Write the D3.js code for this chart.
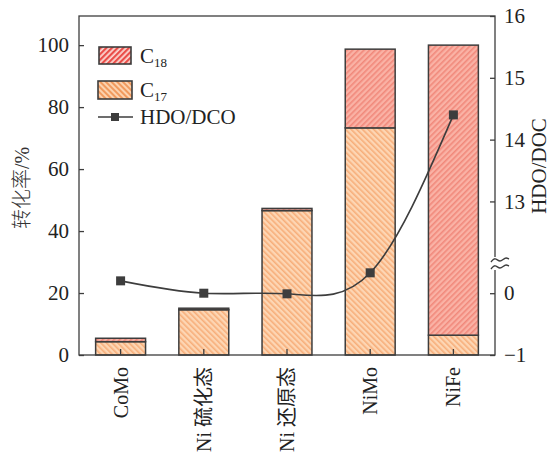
<!DOCTYPE html>
<html>
<head>
<meta charset="utf-8">
<script src="https://cdn.jsdelivr.net/npm/d3@7"></script>
<style>
  html, body { margin: 0; padding: 0; background: #fff; }
</style>
</head>
<body>
<svg id="chart" width="552" height="455"></svg>
<script>
// Catalysts on the x axis
const categories = ["CoMo", "Ni 硫化态", "Ni 还原态", "NiMo", "NiFe"];
// Conversion (%) split into C17 and C18 products
const c17Values = [4.3, 14.6, 46.6, 73.3, 6.4];
const c18Values = [1.1, 0.5, 0.7, 25.4, 93.6];
// HDO/DCO ratio on the right (broken) axis
const ratioValues = [0.2, 0.0, -0.01, 0.33, 14.4];
// Tick labels
const leftTicks = [0, 20, 40, 60, 80, 100];
const rightTicks = [-1, 0, 13, 14, 15, 16];

const serif = "'Liberation Serif', 'Times New Roman', 'Noto Sans CJK SC', serif";
const svg = d3.select("#chart");
const plotL = 79, plotR = 495, plotT = 16, plotB = 355;
const ink = "#3d3d3d";

const x = d3.scaleBand().domain(categories).range([plotL, plotR]).paddingInner(0.4).paddingOuter(0.2);
const y = d3.scaleLinear().domain([0, 109.4]).range([plotB, plotT]);
// Broken right axis: lower part [-1, ~0.5] and upper part [~12, 16] share the break line
const yR = d3.scaleLinear().domain([-1, 0.505, 12.02, 16]).range([plotB, 262, 262, plotT]);

// Hatch patterns
const defs = svg.append("defs");
function hatch(id, bg, stripe, angle, w) {
  const p = defs.append("pattern").attr("id", id).attr("patternUnits", "userSpaceOnUse")
    .attr("width", 4).attr("height", 4).attr("patternTransform", `rotate(${angle})`);
  p.append("rect").attr("width", 4).attr("height", 4).attr("fill", bg);
  p.append("rect").attr("width", w).attr("height", 4).attr("fill", stripe);
}
hatch("c17", "#fdd6b4", "#f7ae7a", -45, 1.6);
hatch("c18", "#fab2a5", "#f1897b", 45, 1.6);
hatch("c17L", "#fcd3b0", "#f19a5e", -45, 2);
hatch("c18L", "#fbd6d0", "#ea4d48", 45, 2.2);

// Stacked bars
const stacked = categories.map((c, i) => ({ c, c17: c17Values[i], c18: c18Values[i] }));
const bars = svg.append("g");
bars.selectAll("rect.c17").data(stacked).join("rect").attr("class", "c17")
  .attr("x", d => x(d.c)).attr("width", x.bandwidth())
  .attr("y", d => y(d.c17)).attr("height", d => y(0) - y(d.c17))
  .attr("fill", "url(#c17)").attr("stroke", ink).attr("stroke-width", 1.5);
bars.selectAll("rect.c18").data(stacked).join("rect").attr("class", "c18")
  .attr("x", d => x(d.c)).attr("width", x.bandwidth())
  .attr("y", d => y(d.c17 + d.c18)).attr("height", d => y(d.c17) - y(d.c17 + d.c18))
  .attr("fill", "url(#c18)").attr("stroke", ink).attr("stroke-width", 1.5);

// Frame
svg.append("rect").attr("x", plotL).attr("y", plotT).attr("width", plotR - plotL).attr("height", plotB - plotT)
  .attr("fill", "none").attr("stroke", ink).attr("stroke-width", 1.3);
// Gap in the right axis for the break mark
svg.append("rect").attr("x", plotR - 3).attr("y", 257).attr("width", 6).attr("height", 13).attr("fill", "#fff");

// Left axis (inward ticks)
const gL = svg.append("g").attr("transform", `translate(${plotL},0)`)
  .call(d3.axisLeft(y).tickValues(leftTicks).tickSizeInner(-5).tickSizeOuter(0).tickPadding(10));
gL.select(".domain").remove();
gL.selectAll(".tick line").attr("stroke", ink).attr("stroke-width", 1.3);
gL.selectAll(".tick text").style("font-size", "21px").style("font-family", serif).attr("fill", "#222");

// Right axis (inward ticks)
const gR = svg.append("g").attr("transform", `translate(${plotR},0)`)
  .call(d3.axisRight(yR).tickValues(rightTicks).tickSizeInner(-5).tickSizeOuter(0).tickPadding(9)
    .tickFormat(d => d < 0 ? "\u2212" + Math.abs(d) : d));
gR.select(".domain").remove();
gR.selectAll(".tick line").attr("stroke", ink).attr("stroke-width", 1.3);
gR.selectAll(".tick text").style("font-size", "21px").style("font-family", serif).attr("fill", "#222");

// Break mark (two waves)
const wave = d3.line().curve(d3.curveBasis);
[260, 267].forEach(yy => {
  svg.append("path")
    .attr("d", wave([[plotR - 4, yy + 2], [plotR, yy - 3], [plotR + 5, yy + 3], [plotR + 10, yy - 3], [plotR + 14, yy - 1]]))
    .attr("fill", "none").attr("stroke", ink).attr("stroke-width", 1.4);
});

// Bottom axis (inward ticks at bar centres)
const gB = svg.append("g").attr("transform", `translate(0,${plotB})`)
  .call(d3.axisBottom(x).tickSizeInner(-6).tickSizeOuter(0).tickPadding(12));
gB.select(".domain").remove();
gB.selectAll(".tick line").attr("stroke", ink).attr("stroke-width", 1.3);
gB.selectAll(".tick text").style("font-size", "20px").style("font-family", serif).attr("fill", "#222")
  .attr("transform", "rotate(-90)").attr("text-anchor", "end")
  .attr("x", -12).attr("y", 0).attr("dy", "0.35em");

// HDO/DCO line
const pts = categories.map((c, i) => [x(c) + x.bandwidth() / 2, yR(ratioValues[i])]);
svg.append("path").attr("d", d3.line().curve(d3.curveNatural)(pts))
  .attr("fill", "none").attr("stroke", ink).attr("stroke-width", 1.6);
svg.selectAll("rect.pt").data(pts).join("rect").attr("class", "pt")
  .attr("x", d => d[0] - 4.5).attr("y", d => d[1] - 4.5).attr("width", 9).attr("height", 9)
  .attr("fill", ink);

// Axis titles
svg.append("text").attr("transform", "translate(22,188) rotate(-90)").attr("text-anchor", "middle")
  .style("font-size", "20px").style("font-family", serif).style("font-weight", 300)
  .attr("fill", "#333").attr("dy", "0.35em").text("转化率/%");
svg.append("text").attr("transform", "translate(539,166) rotate(-90)").attr("text-anchor", "middle")
  .style("font-size", "21px").style("font-family", serif).attr("fill", "#222")
  .attr("dy", "0.35em").text("HDO/DOC");

// Legend
const lg = svg.append("g");
lg.append("rect").attr("x", 99).attr("y", 47).attr("width", 32).attr("height", 17)
  .attr("fill", "url(#c18L)").attr("stroke", ink).attr("stroke-width", 1.6);
lg.append("rect").attr("x", 98).attr("y", 81).attr("width", 34).attr("height", 18)
  .attr("fill", "url(#c17L)").attr("stroke", ink).attr("stroke-width", 1.6);
[["18", 63], ["17", 97]].forEach(([sub, yy]) => {
  const t = lg.append("text").attr("x", 140).attr("y", yy)
    .style("font-size", "21px").style("font-family", serif).attr("fill", "#222");
  t.append("tspan").text("C");
  t.append("tspan").style("font-size", "13px").attr("dy", 4).text(sub);
});
lg.append("line").attr("x1", 98).attr("x2", 133).attr("y1", 117).attr("y2", 117)
  .attr("stroke", ink).attr("stroke-width", 1.6);
lg.append("rect").attr("x", 111).attr("y", 113).attr("width", 8).attr("height", 8).attr("fill", ink);
lg.append("text").attr("x", 140).attr("y", 124)
  .style("font-size", "21px").style("font-family", serif).attr("fill", "#222").text("HDO/DCO");
</script>
</body>
</html>
